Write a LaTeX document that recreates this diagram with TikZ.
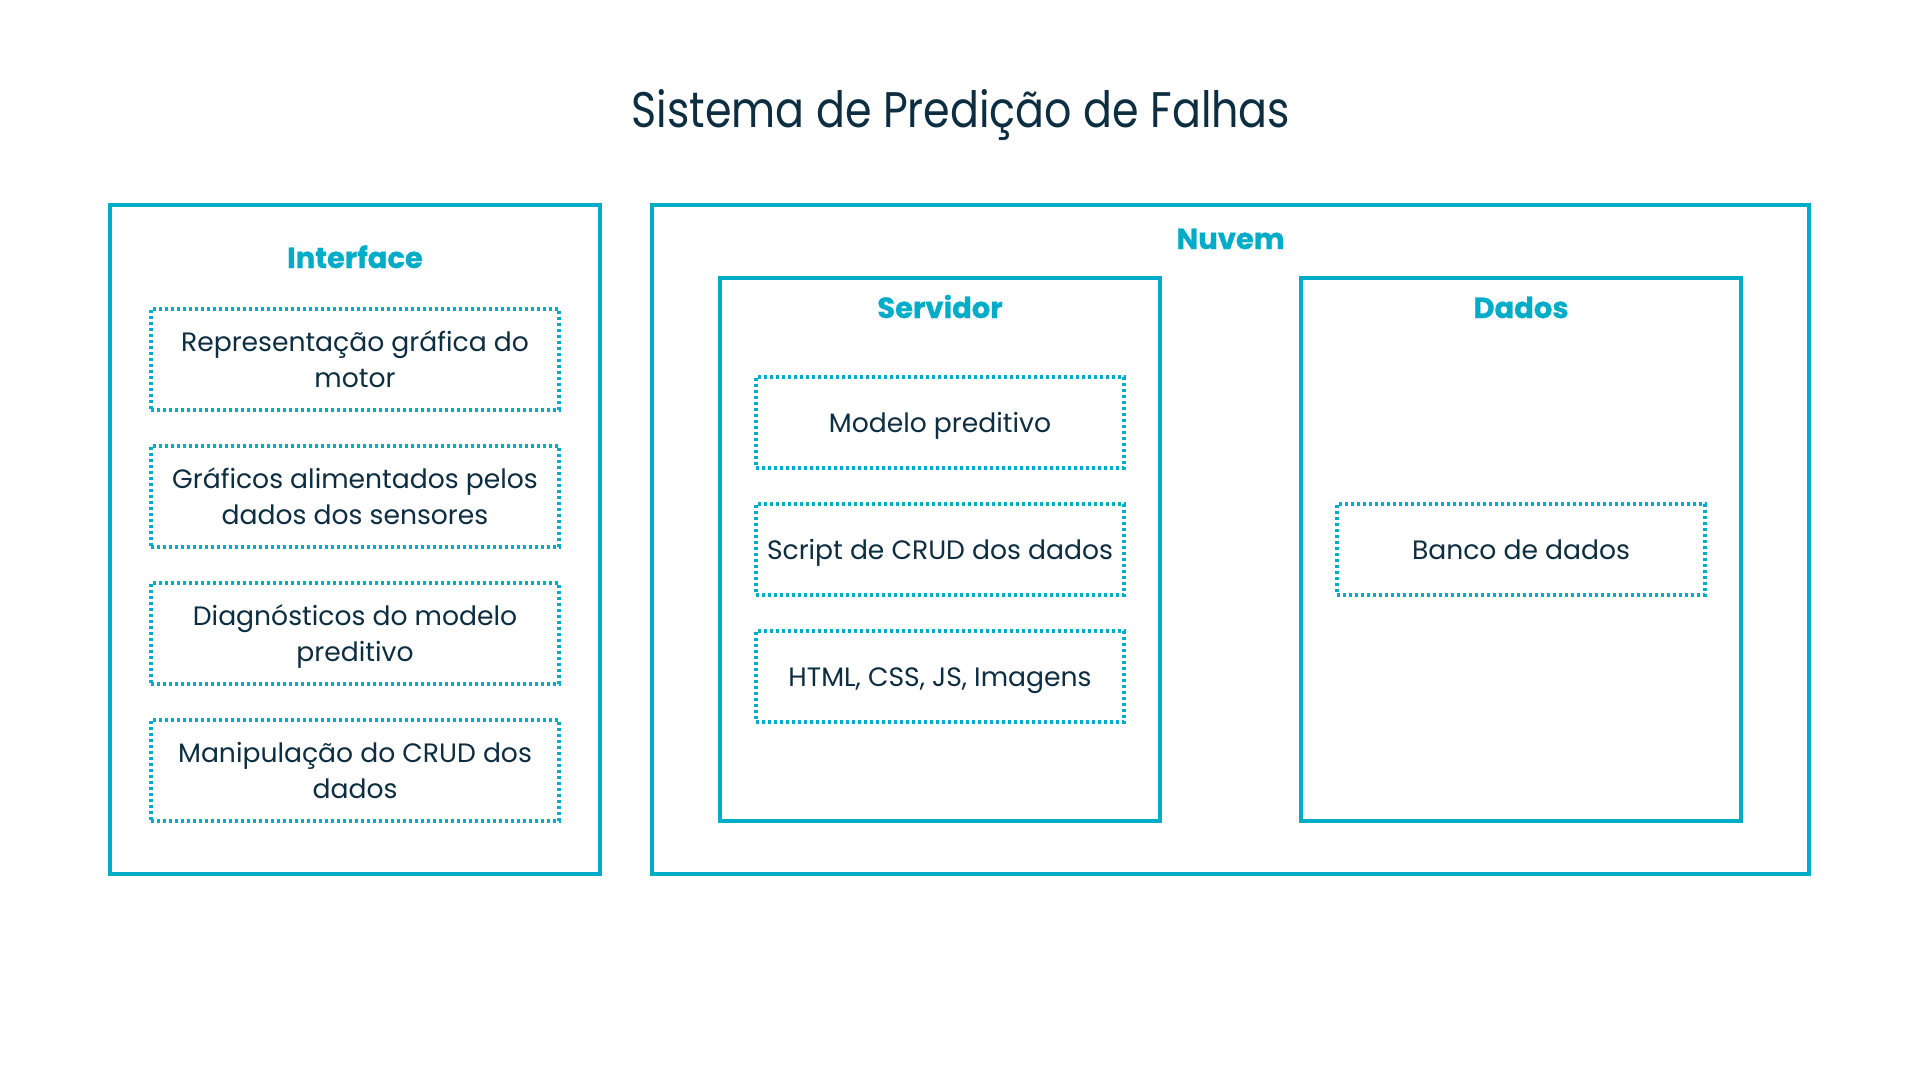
\documentclass[tikz,border=0pt]{standalone}
\usepackage{fontspec}
\setmainfont{Poppins}
\newfontfamily\titlefont{Poppins}[FakeStretch=0.856]
\newfontfamily\headfont{Poppins}[BoldFeatures={FakeBold=0.8}]
\usetikzlibrary{positioning}
\definecolor{cyanline}{HTML}{00ACC8}
\definecolor{navy}{HTML}{0D2D40}
\newcommand\lnstrut{\rule[-8pt]{0pt}{35pt}}
\tikzset{
  outerbox/.style={draw=cyanline, line width=4pt, inner sep=0pt, outer sep=0pt},
  dotbox/.style={draw=cyanline, line width=3.3pt, dash pattern=on 3.4pt off 2.6pt,
    inner sep=0pt, outer sep=0pt, align=center, text=navy,
    font={\fontsize{26.6}{36}\selectfont}},
  headlabel/.style={anchor=base, inner sep=0pt, text=cyanline,
    font={\headfont\fontsize{29}{34}\selectfont\bfseries}},
  titlelabel/.style={anchor=base, inner sep=0pt, text=navy,
    font={\titlefont\fontsize{50}{60}\selectfont}}
}
\begin{document}
\begin{tikzpicture}[x=1pt,y=-1pt]
\useasboundingbox (0,0) rectangle (1920,1080);
\fill[white] (0,0) rectangle (1920,1080);

\node[titlelabel] (title) at (961,127) {Sistema de Predição de Falhas};

% outer boxes
\node[outerbox, minimum width=490pt, minimum height=669pt] (interface) at (355,539.5) {};
\node[outerbox, minimum width=1157pt, minimum height=669pt] (nuvem) at (1230.5,539.5) {};
\node[outerbox, minimum width=440pt, minimum height=543pt] (servidor) at (940,549.5) {};
\node[outerbox, minimum width=440pt, minimum height=543pt] (dados) at (1521,549.5) {};

% headings
\node[headlabel] (hinterface) at (355,268) {Interface};
\node[headlabel] (hnuvem) at (1230.5,249) {Nuvem};
\node[headlabel] (hservidor) at (940,318) {Servidor};
\node[headlabel] (hdados) at (1521,318) {Dados};

% interface items
\node[dotbox, minimum width=408pt, minimum height=101pt] (i1) at (355,359.5)
  {\lnstrut Representação gráfica do\\\lnstrut motor};
\node[dotbox, minimum width=408pt, minimum height=101pt] (i2) at (355,496.5)
  {\lnstrut Gráficos alimentados pelos\\\lnstrut dados dos sensores};
\node[dotbox, minimum width=408pt, minimum height=101pt] (i3) at (355,633.5)
  {\lnstrut Diagnósticos do modelo\\\lnstrut preditivo};
\node[dotbox, minimum width=408pt, minimum height=101pt] (i4) at (355,770.5)
  {\lnstrut Manipulação do CRUD dos\\\lnstrut dados};

% servidor items
\node[dotbox, minimum width=368pt, minimum height=91pt] (s1) at (940,422.5)
  {\lnstrut Modelo preditivo};
\node[dotbox, minimum width=368pt, minimum height=91pt] (s2) at (940,549.5)
  {\lnstrut Script de CRUD dos dados};
\node[dotbox, minimum width=368pt, minimum height=91pt] (s3) at (940,676.5)
  {\lnstrut HTML, CSS, JS, Imagens};

% dados item
\node[dotbox, minimum width=368pt, minimum height=91pt] (d1) at (1521,549.5)
  {\lnstrut Banco de dados};
\end{tikzpicture}
\end{document}
